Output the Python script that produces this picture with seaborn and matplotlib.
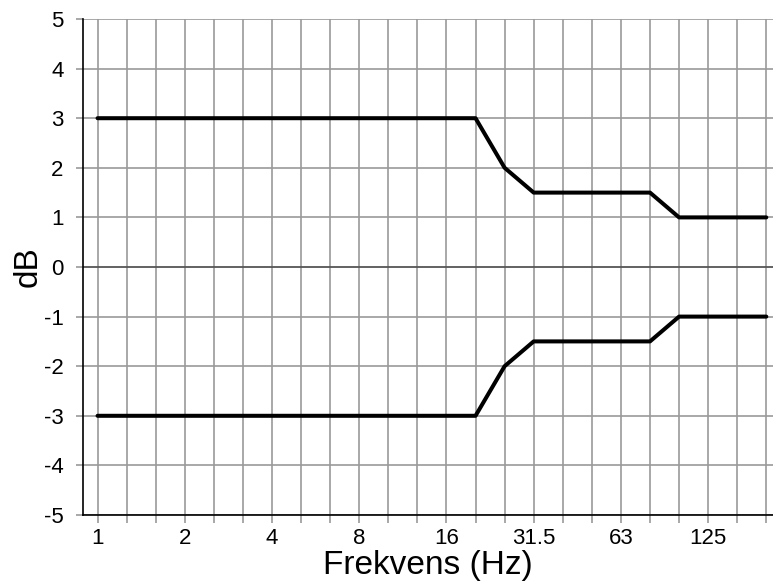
import matplotlib
matplotlib.use("Agg")
import matplotlib.pyplot as plt
import seaborn as sns
import pandas as pd

# Third-octave band centre frequencies (Hz)
freqs = ["1", "1.25", "1.6", "2", "2.5", "3.15", "4", "5", "6.3", "8", "10", "12.5",
         "16", "20", "25", "31.5", "40", "50", "63", "80", "100", "125", "160", "200"]
upper = [3, 3, 3, 3, 3, 3, 3, 3, 3, 3, 3, 3, 3, 3, 2, 1.5, 1.5, 1.5, 1.5, 1.5, 1, 1, 1, 1]
lower = [-3, -3, -3, -3, -3, -3, -3, -3, -3, -3, -3, -3, -3, -3, -2, -1.5, -1.5, -1.5, -1.5, -1.5, -1, -1, -1, -1]
octave_labels = ["1", "2", "4", "8", "16", "31.5", "63", "125"]
yticks = [-5, -4, -3, -2, -1, 0, 1, 2, 3, 4, 5]

sns.set_theme(style="white")
plt.rcParams["font.family"] = ["Liberation Sans", "DejaVu Sans"]

idx = list(range(len(freqs)))
df = pd.DataFrame({
    "pos": idx + idx,
    "dB": upper + lower,
    "band": ["upper"] * len(idx) + ["lower"] * len(idx),
})

fig = plt.figure(figsize=(7.73, 5.82), dpi=100)
ax = fig.add_axes([83 / 773, 67 / 582, 1 - 83 / 773, (515 - 19) / 582])

# grid
for i in idx:
    ax.axvline(i, color="#9a9a9a", lw=1.2, zorder=1)
for y in yticks:
    ax.axhline(y, color="#555555" if y == 0 else "#9a9a9a", lw=1.3 if y == 0 else 1.2, zorder=1)

sns.lineplot(data=df, x="pos", y="dB", units="band", estimator=None, color="black",
             lw=2.9, ax=ax, zorder=3, legend=False)

ax.set_xlim(-0.5, 23.23)
ax.set_ylim(-5, 5)
ax.set_yticks(yticks)
ax.set_yticklabels([str(v) for v in yticks])
ax.set_xticks(idx)
ax.set_xticklabels([f if f in octave_labels else "" for f in freqs])

ax.tick_params(axis="x", direction="out", length=6, width=1.2, color="#9a9a9a",
               labelsize=16, pad=3, bottom=True, labelcolor="black")
ax.tick_params(axis="y", direction="out", length=5, width=1.2, color="#9a9a9a",
               labelsize=16, pad=9, left=True, labelcolor="black")

for s in ["top", "right"]:
    ax.spines[s].set_visible(False)
for s in ["left", "bottom"]:
    ax.spines[s].set_visible(True)
    ax.spines[s].set_color("black")
    ax.spines[s].set_linewidth(1.2)
    ax.spines[s].set_zorder(4)

ax.set_xlabel("Frekvens (Hz)", fontsize=24, labelpad=1, color="black")
ax.set_ylabel("dB", fontsize=24, labelpad=0, color="black")

fig.savefig("out.png", dpi=100)
